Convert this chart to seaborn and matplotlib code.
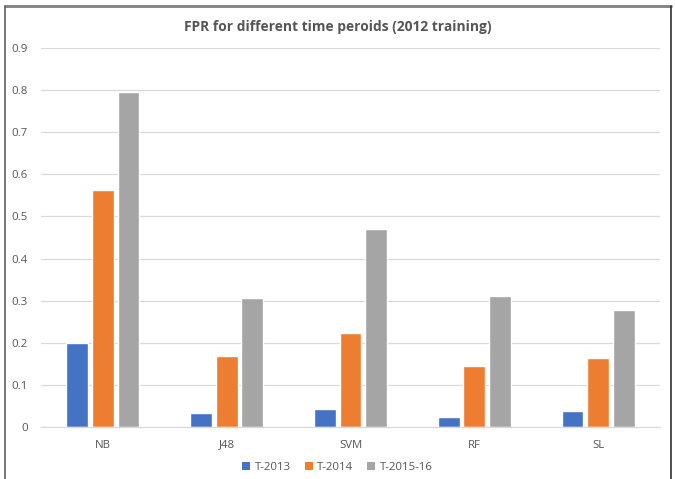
import matplotlib
matplotlib.use("Agg")
import matplotlib.pyplot as plt
import seaborn as sns
import pandas as pd
from matplotlib.lines import Line2D
from matplotlib.patches import Patch

categories = ["NB", "J48", "SVM", "RF", "SL"]
series = ["T-2013", "T-2014", "T-2015-16"]
t2013 = [0.200, 0.033, 0.043, 0.023, 0.037]
t2014 = [0.563, 0.169, 0.223, 0.145, 0.164]
t2015_16 = [0.796, 0.306, 0.469, 0.311, 0.278]
yticks = [0, 0.1, 0.2, 0.3, 0.4, 0.5, 0.6, 0.7, 0.8, 0.9]
ytick_labels = ["0", "0.1", "0.2", "0.3", "0.4", "0.5", "0.6", "0.7", "0.8", "0.9"]
colors = ["#4472C4", "#ED7D31", "#A5A5A5"]

df = pd.DataFrame({
    "cat": categories * 3,
    "series": [series[0]] * 5 + [series[1]] * 5 + [series[2]] * 5,
    "value": t2013 + t2014 + t2015_16,
})

sns.set_style("white")
plt.rcParams["font.family"] = ["Open Sans", "DejaVu Sans"]
text_color = "#555555"

fig = plt.figure(figsize=(6.75, 4.79), dpi=100)
ax = fig.add_axes([41 / 675, 1 - 427 / 479, 619 / 675, 379 / 479])

sns.barplot(data=df, x="cat", y="value", hue="series", palette=colors,
            width=0.62, gap=0.15, ax=ax, legend=False, saturation=1)

ax.set_ylim(0, 0.9)
ax.set_xlim(-0.5, 4.5)
ax.set_yticks(yticks)
ax.set_yticklabels(ytick_labels)
ax.yaxis.grid(True, color="#D9D9D9", linewidth=0.9)
ax.set_axisbelow(True)
for s in ["top", "right", "left"]:
    ax.spines[s].set_visible(False)
ax.spines["bottom"].set_color("#D9D9D9")
ax.spines["bottom"].set_linewidth(0.9)
ax.tick_params(axis="both", length=0, labelsize=8.2, labelcolor=text_color)
ax.tick_params(axis="y", pad=9.5)
ax.tick_params(axis="x", pad=9)
ax.set_xlabel("")
ax.set_ylabel("")

fig.text(0.5, 1 - 27 / 479, "FPR for different time peroids (2012 training)",
         ha="center", va="center", fontsize=9.9, fontweight="bold", color=text_color)

handles = [Patch(facecolor=c, edgecolor="none") for c in colors]
fig.legend(handles, series, loc="center", bbox_to_anchor=(0.5, 1 - 467 / 479),
           ncol=3, frameon=False, fontsize=8.2, handlelength=0.7, handleheight=0.7,
           columnspacing=1.2, handletextpad=0.4, labelcolor=text_color)

# screenshot frame
fig.add_artist(Line2D([5 / 675, 671 / 675], [1 - 6 / 479, 1 - 6 / 479],
                      transform=fig.transFigure, color="#808080", linewidth=2))
fig.add_artist(Line2D([5 / 675, 5 / 675], [0, 1 - 6 / 479],
                      transform=fig.transFigure, color="#606060", linewidth=1.2))
fig.add_artist(Line2D([671 / 675, 671 / 675], [0, 1 - 6 / 479],
                      transform=fig.transFigure, color="#303030", linewidth=1.2))

fig.savefig("out.png", dpi=100, facecolor="white")
